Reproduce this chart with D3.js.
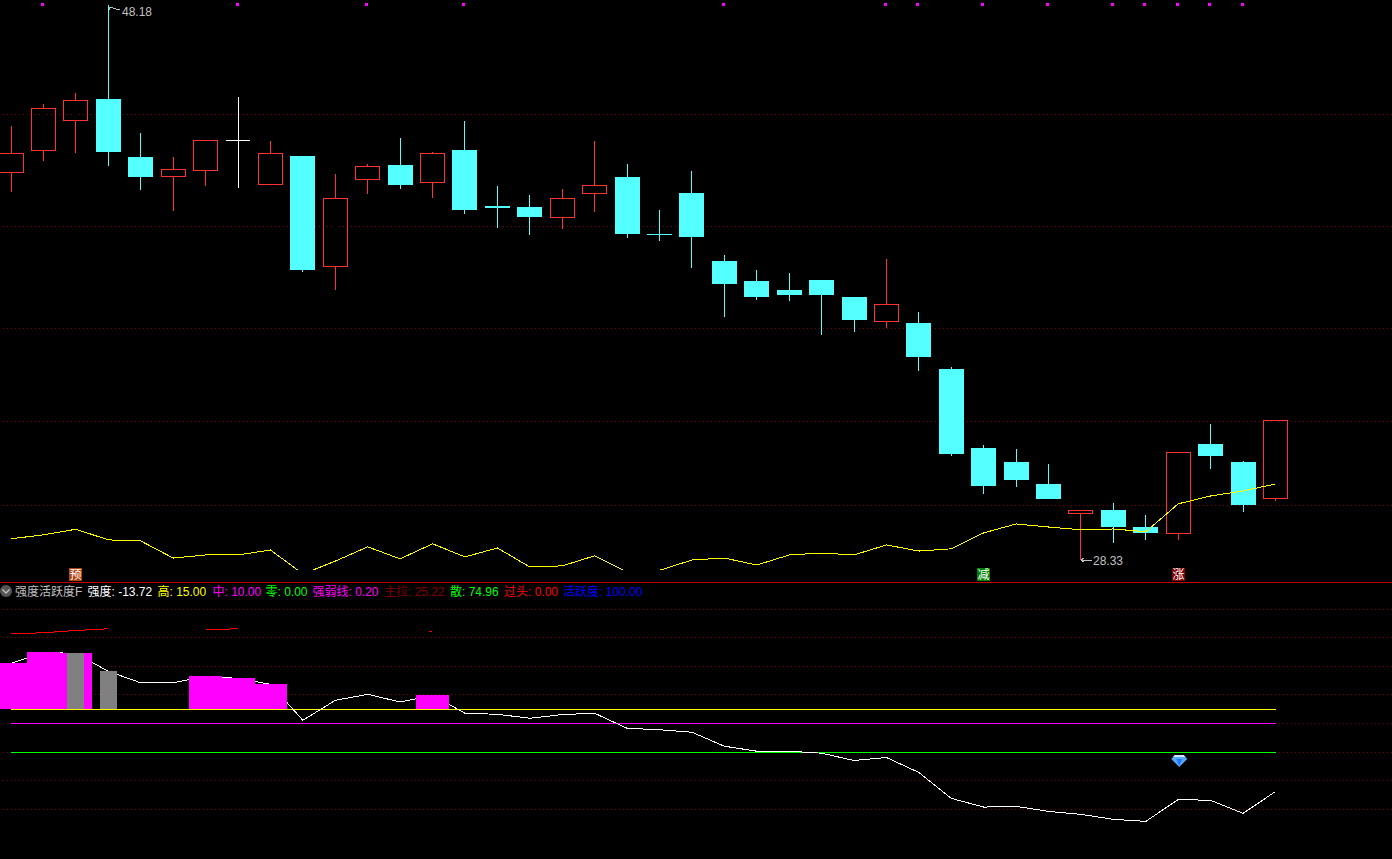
<!DOCTYPE html>
<html>
<head>
<meta charset="utf-8">
<script src="https://cdn.jsdelivr.net/npm/d3@7"></script>
<style>
    html, body { margin: 0; padding: 0; background: #000; overflow: hidden; }
    svg { display: block; }
    text { font-family: "Liberation Sans", "Noto Sans CJK SC", sans-serif; font-size: 12px; }
</style>
</head>
<body>
<div id="chart"></div>
<script>
// Candles, one entry per trading day
const candleOpen = [42.20, 42.99, 44.06, 44.82, 42.74, 42.06, 42.28, 43.35, 41.78, 42.78,
    38.85, 41.96, 42.46, 41.85, 42.99, 40.99, 40.96, 40.60, 41.46, 42.03,
    39.99, 41.46, 39.02, 38.31, 37.99, 38.35, 37.74, 36.88, 36.81, 35.16,
    32.33, 31.83, 31.05, 30.01, 30.12, 29.51, 29.30, 32.48, 31.83, 30.55];
const candleHigh = [43.85, 44.64, 45.03, 48.18, 43.60, 42.74, 43.35, 44.89, 43.31, 42.78,
    42.13, 42.49, 43.42, 42.92, 44.03, 41.71, 41.39, 41.60, 43.31, 42.49,
    40.85, 42.24, 39.24, 38.71, 38.60, 38.35, 37.74, 39.10, 37.20, 35.23,
    32.44, 32.30, 31.76, 30.12, 30.37, 29.94, 32.19, 33.19, 31.87, 33.33];
const candleLow = [41.49, 42.60, 42.88, 42.42, 41.56, 40.81, 41.71, 41.63, 41.78, 38.63,
    37.99, 41.42, 41.60, 41.28, 40.71, 40.21, 39.97, 40.17, 40.78, 39.85,
    39.74, 38.78, 37.02, 37.63, 37.60, 36.38, 36.49, 36.63, 35.09, 32.05,
    30.69, 30.94, 30.51, 28.33, 28.94, 29.05, 29.05, 31.58, 30.05, 30.44];
const candleClose = [42.88, 44.49, 44.78, 42.92, 42.03, 42.31, 43.35, 43.35, 42.88, 38.70,
    41.28, 42.42, 41.74, 42.88, 40.85, 40.92, 40.60, 41.28, 41.74, 39.99,
    39.98, 39.89, 38.20, 37.74, 37.81, 37.81, 36.92, 37.49, 35.60, 32.12,
    30.98, 31.19, 30.51, 30.12, 29.51, 29.30, 32.19, 32.05, 30.30, 33.33];

// Yellow line on the price pane (runs below the pane floor twice)
const priceLine = [29.09, 29.23, 29.43, 29.05, 29.01, 28.40, 28.51, 28.51, 28.69, 27.83,
    28.29, 28.80, 28.37, 28.91, 28.44, 28.76, 28.08, 28.12, 28.48, 27.90,
    27.96, 28.33, 28.40, 28.15, 28.51, 28.58, 28.51, 28.87, 28.65, 28.73,
    29.30, 29.62, 29.51, 29.41, 29.44, 29.34, 30.34, 30.62, 30.80, 31.05];

const priceGrid = [44.27, 40.26, 36.61, 33.28, 30.28];
const topMarkers = [1, 7, 11, 14, 22, 27, 28, 30, 32, 34, 35, 36, 37, 38];

const signalDays = [2, 30, 36];
const signalTexts = ["预", "减", "涨"];

// Indicator pane
const strength = [31.0, 34.84, 34.49, 28.22, 24.22, 24.22, 26.48, 25.78, 23.69, 11.15,
    18.12, 20.21, 17.53, 19.86, 13.59, 13.24, 11.85, 13.14, 13.59, 8.36,
    7.84, 6.97, 2.09, 0.35, 0.35, -0.35, -2.9, -1.85, -7.07, -16.13,
    -19.16, -18.92, -20.66, -21.71, -23.45, -24.15, -16.48, -16.83, -21.36, -13.72];
const mainPull = [41.36, 41.7, 42.5, 43.1, null, null, 42.75, 43.1, null, null,
    null, null, null, 42.16, null, null, null, null, null, null,
    null, null, null, null, null, null, null, null, null, null,
    null, null, null, null, null, null, null, null, null, null];
const magentaDays = [0, 1, 2, 6, 7, 8, 13];
const grayDays = [2, 3];
const gemDay = 36;

const strengthGrid = [50, 40, 30, 20, 10, 0, -10, -20];
const levelValues = [15, 10, 0];
const levelColors = ["#ffff00", "#ff00ff", "#00ff00"];

const headerLabels = ["强度活跃度F", "强度: -13.72", "高: 15.00", "中: 10.00", "零: 0.00",
    "强弱线: 0.20", "主拉: 25.22", "散: 74.96", "过头: 0.00", "活跃度: 100.00"];
const headerColors = ["#c0c0c0", "#ffffff", "#ffff00", "#ff00ff", "#00ff00",
    "#ff00ff", "#800000", "#00ff00", "#ff0000", "#0000ff"];

const width = 1392, height = 859;
const red = "#ff3232", cyan = "#54ffff", gridColor = "#7a0000", labelGray = "#c0c0c0";
const days = d3.range(candleOpen.length);

const x = d3.scaleLinear().domain([0, 39]).range([11.1, 1275.5]);
const y = d3.scaleLinear().domain([28.33, 48.18]).range([560, 5]);
const ySub = d3.scaleLinear().domain([0, 50]).range([752.2, 609.0]);

const col = i => Math.floor(x(i));
const py = v => Math.round(y(v));

const svg = d3.select("#chart").append("svg")
    .attr("width", width)
    .attr("height", height)
    .style("background", "#000");

svg.append("defs").append("clipPath").attr("id", "price-clip")
    .append("rect").attr("x", 0).attr("y", 0).attr("width", width).attr("height", 570);

// dotted grids
function dottedRows(values, scale) {
    svg.append("g").selectAll("line").data(values).join("line")
        .attr("x1", 3).attr("x2", width)
        .attr("y1", d => Math.floor(scale(d)) + 0.5)
        .attr("y2", d => Math.floor(scale(d)) + 0.5)
        .attr("stroke", gridColor)
        .attr("stroke-dasharray", "1 3")
        .attr("shape-rendering", "crispEdges");
}
dottedRows(priceGrid, y);
dottedRows(strengthGrid, ySub);

// candles
const candleColor = i => candleClose[i] > candleOpen[i] ? red
    : candleClose[i] < candleOpen[i] ? cyan : "#ffffff";

const candles = svg.append("g").attr("shape-rendering", "crispEdges");

candles.selectAll(".wick").data(days).join("line")
    .attr("class", "wick")
    .attr("x1", i => col(i) + 0.5).attr("x2", i => col(i) + 0.5)
    .attr("y1", i => py(candleHigh[i]))
    .attr("y2", i => py(candleLow[i]))
    .attr("stroke", candleColor);

// hollow red bodies show the black behind the wick but keep the grid
candles.selectAll(".gap").data(days.filter(i => candleClose[i] > candleOpen[i])).join("rect")
    .attr("class", "gap")
    .attr("x", i => col(i)).attr("width", 1)
    .attr("y", i => py(candleClose[i]))
    .attr("height", i => py(candleOpen[i]) - py(candleClose[i]))
    .attr("fill", "#000");

candles.selectAll(".up").data(days.filter(i => candleClose[i] > candleOpen[i])).join("rect")
    .attr("class", "up")
    .attr("x", i => col(i) - 11.5).attr("width", 24)
    .attr("y", i => py(candleClose[i]) + 0.5)
    .attr("height", i => py(candleOpen[i]) - py(candleClose[i]))
    .attr("fill", "none")
    .attr("stroke", red);

candles.selectAll(".down").data(days.filter(i => candleClose[i] < candleOpen[i])).join("rect")
    .attr("class", "down")
    .attr("x", i => col(i) - 12).attr("width", 25)
    .attr("y", i => py(candleOpen[i]))
    .attr("height", i => Math.max(1, py(candleClose[i]) - py(candleOpen[i])))
    .attr("fill", cyan);

candles.selectAll(".doji").data(days.filter(i => candleClose[i] === candleOpen[i])).join("line")
    .attr("class", "doji")
    .attr("x1", i => col(i) - 12).attr("x2", i => col(i) + 12)
    .attr("y1", i => py(candleOpen[i]) + 0.5).attr("y2", i => py(candleOpen[i]) + 0.5)
    .attr("stroke", "#ffffff");

// yellow line on the price pane
svg.append("path").datum(days)
    .attr("d", d3.line().x(i => x(i)).y(i => y(priceLine[i])))
    .attr("clip-path", "url(#price-clip)")
    .attr("fill", "none")
    .attr("stroke", "#ffff00")
    .attr("shape-rendering", "crispEdges");

// small magenta squares along the top
svg.append("g").selectAll("rect").data(topMarkers).join("rect")
    .attr("x", i => col(i) - 2).attr("y", 3)
    .attr("width", 3).attr("height", 3)
    .attr("fill", "#ff00ff");

// high / low labels
const hiIdx = d3.maxIndex(candleHigh), loIdx = d3.minIndex(candleLow);
const pointers = svg.append("g").attr("stroke", labelGray).attr("fill", "none").attr("shape-rendering", "crispEdges");
pointers.append("path").attr("d", `M${col(hiIdx) + 1},7 L${col(hiIdx) + 12},10 M${col(hiIdx) + 1},7 h3 M${col(hiIdx) + 1},7 v3`);
pointers.append("path").attr("d", `M${col(loIdx) + 1},${py(candleLow[loIdx])} h11 M${col(loIdx) + 1},${py(candleLow[loIdx])} l3,-2 M${col(loIdx) + 1},${py(candleLow[loIdx])} l3,2`);
svg.append("text").attr("x", col(hiIdx) + 14).attr("y", 16).attr("fill", labelGray).text(candleHigh[hiIdx].toFixed(2));
svg.append("text").attr("x", col(loIdx) + 13).attr("y", py(candleLow[loIdx]) + 5).attr("fill", labelGray).text(candleLow[loIdx].toFixed(2));

// signal tags at the pane floor
const tagFill = ["#b04010", "#008000", "#800000"];
signalDays.forEach((d, k) => {
    svg.append("rect").attr("x", col(d) - 6).attr("y", 568).attr("width", 13).attr("height", 13).attr("fill", tagFill[k]);
    svg.append("text").attr("x", col(d) + 0.5).attr("y", 579).attr("text-anchor", "middle")
        .attr("fill", "#fff").text(signalTexts[k]);
});

// pane separator
svg.append("line").attr("x1", 0).attr("x2", width).attr("y1", 582.5).attr("y2", 582.5)
    .attr("stroke", "#c00000").attr("shape-rendering", "crispEdges");

// header of the indicator pane
svg.append("circle").attr("cx", 6).attr("cy", 591).attr("r", 6).attr("fill", "#555");
svg.append("path").attr("d", "M2.5,589.5 L6,593 L9.5,589.5").attr("fill", "none").attr("stroke", "#bbb").attr("stroke-width", 1.5);
const headerX = [15, 87.5, 157.5, 212.5, 265.5, 312.5, 384, 450, 504, 563];
svg.append("g").selectAll("text").data(headerLabels).join("text")
    .attr("x", (d, k) => headerX[k]).attr("y", 595.5)
    .attr("fill", (d, k) => headerColors[k])
    .text(d => d);

// level lines
svg.append("g").selectAll("line").data(levelValues).join("line")
    .attr("x1", x(0)).attr("x2", x(39))
    .attr("y1", d => Math.floor(ySub(d)) + 0.5).attr("y2", d => Math.floor(ySub(d)) + 0.5)
    .attr("stroke", (d, k) => levelColors[k])
    .attr("shape-rendering", "crispEdges");

// strength line, the sticks sit on top of it
svg.append("path").datum(days)
    .attr("d", d3.line().x(i => x(i)).y(i => ySub(strength[i])))
    .attr("fill", "none")
    .attr("stroke", "#ffffff")
    .attr("shape-rendering", "crispEdges");

// red line, only pieces of it are on screen
svg.append("path").datum(days)
    .attr("d", d3.line().defined(i => mainPull[i] !== null && (mainPull[i - 1] != null || mainPull[i + 1] != null))
        .x(i => x(i)).y(i => ySub(mainPull[i])))
    .attr("fill", "none")
    .attr("stroke", "#ff0000")
    .attr("shape-rendering", "crispEdges");
svg.append("rect").attr("x", col(13) - 3).attr("y", Math.round(ySub(mainPull[13])))
    .attr("width", 3).attr("height", 1).attr("fill", "#ff0000");

const stickBase = ySub(15);
svg.append("g").selectAll("rect").data(magentaDays).join("rect")
    .attr("x", i => col(i) - 16).attr("width", 32.6)
    .attr("y", i => Math.round(ySub(strength[i])))
    .attr("height", i => Math.round(stickBase) - Math.round(ySub(strength[i])))
    .attr("fill", "#ff00ff")
    .attr("shape-rendering", "crispEdges");
svg.append("g").selectAll("rect").data(grayDays).join("rect")
    .attr("x", i => col(i) - 8).attr("width", 17)
    .attr("y", i => Math.round(ySub(strength[i])))
    .attr("height", i => Math.round(stickBase) - Math.round(ySub(strength[i])))
    .attr("fill", "#808080")
    .attr("shape-rendering", "crispEdges");

// blue gem under the zero line
const gem = svg.append("g").attr("transform", `translate(${x(gemDay) + 1},755)`);
gem.append("path").attr("d", "M-4.5,0 H4.5 L8,4 L0,12 L-8,4 Z").attr("fill", "#5aa8f5");
gem.append("path").attr("d", "M-4.5,0 H4.5 L6,2 H-6 Z").attr("fill", "#cfe8ff");
gem.append("path").attr("d", "M-3,4 H3 L0,11 Z").attr("fill", "#1f78ff");
</script>
</body>
</html>
